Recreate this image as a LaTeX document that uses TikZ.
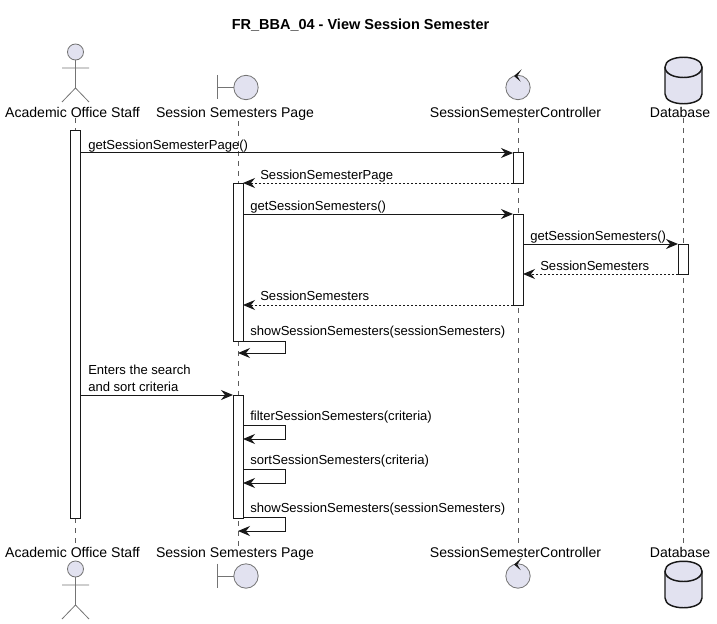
\documentclass[tikz,border=0pt]{standalone}
\usepackage{fontspec}
\setmainfont{Liberation Sans}
\usetikzlibrary{arrows.meta}
\definecolor{partfill}{HTML}{E2E2F0}
\definecolor{partline}{HTML}{181818}

\begin{document}
\begin{tikzpicture}[
x=0.75pt, y=-0.75pt,
>={Stealth[length=9pt,width=7.5pt,inset=3pt]},
title/.style={font=\fontsize{10.87}{12}\selectfont\bfseries, inner sep=0pt},
partname/.style={font=\fontsize{10.55}{12}\selectfont, inner sep=0pt, anchor=base},
msg/.style={font=\fontsize{9.8}{11}\selectfont, inner sep=0pt, anchor=base west},
activebar/.style={draw=partline, fill=white, line width=0.75pt, minimum width=7.5pt, inner sep=0pt, outer sep=0pt, anchor=north, minimum height=#1*0.75pt},
lifeline/.style={draw=partline!70, line width=0.4pt, dash pattern=on 3.75pt off 3.75pt},
call/.style={->, draw=partline, line width=0.75pt},
reply/.style={->, draw=partline, line width=0.75pt, dash pattern=on 1.5pt off 1.5pt},
figline/.style={draw=partline!60, line width=0.6pt},
figfill/.style={draw=partline!60, fill=partfill, line width=0.6pt}
]
    \useasboundingbox (0,0) rectangle (717,624);

    \node[title] (tt) at (360.5,25){FR\_BBA\_04 - View Session Semester};

    % names on top and bottom
    \node[partname] (a0) at (72.5,118){Academic Office Staff};
    \node[partname] (b0) at (235,118){Session Semesters Page};
    \node[partname] (c0) at (515.5,118){SessionSemesterController};
    \node[partname] (d0) at (680,118){Database};
    \node[partname] (a9) at (72.5,557){Academic Office Staff};
    \node[partname] (b9) at (235,557){Session Semesters Page};
    \node[partname] (c9) at (515.5,557){SessionSemesterController};
    \node[partname] (d9) at (680,557){Database};

    % figures
    \foreach \dy in {0,517}{
        \draw[figfill] (75.5,52+\dy) circle (8);
        \draw[figline] (75.5,60+\dy) -- (75.5,88+\dy) (62,68+\dy) -- (89,68+\dy)
            (62,102+\dy) -- (75.5,88+\dy) -- (89,102+\dy);
    }
    \foreach \dy in {0,488.5}{
        \draw[figfill] (246,87.5+\dy) circle (12.2);
        \draw[figline] (217.5,75+\dy) -- (217.5,99.5+\dy) (217.5,87.5+\dy) -- (234,87.5+\dy);
        \draw[figfill] (518,87.5+\dy) circle (12.2);
        \fill[partline] (521.7,69.3+\dy) -- (514,76+\dy) -- (520.7,81.7+\dy) -- (517.3,76+\dy) -- cycle;
    }
    \foreach \dy in {0,504}{
        \draw[draw=partline, fill=partfill, line width=1.1pt] (665,67+\dy)
            .. controls (665,54+\dy) and (702,54+\dy) .. (702,67+\dy) -- (702,94+\dy)
            .. controls (702,107+\dy) and (665,107+\dy) .. (665,94+\dy) -- cycle;
        \draw[draw=partline, line width=1.1pt] (665,67+\dy)
            .. controls (665,81+\dy) and (702,81+\dy) .. (702,67+\dy);
    }

    % lifelines
    \coordinate (ax) at (75,0);
    \coordinate (bx) at (238,0);
    \coordinate (cx) at (518,0);
    \coordinate (dx) at (683,0);
    \draw[lifeline] (ax |- a0.south) -- (ax |- a9.north);
    \draw[lifeline] (bx |- b0.south) -- (bx |- b9.north);
    \draw[lifeline] (cx |- c0.south) -- (cx |- c9.north);
    \draw[lifeline] (dx |- d0.south) -- (dx |- d9.north);

    % activations
    \node[activebar=387] (a1) at (75,131){};
    \node[activebar=158] (b1) at (238,183){};
    \node[activebar=123] (b2) at (238,395){};
    \node[activebar=30] (c1) at (518,153){};
    \node[activebar=91] (c2) at (518,214){};
    \node[activebar=30] (d1) at (683,244){};

    % messages
    \node[msg] (m1) at (88,150){getSessionSemesterPage()};
    \node[msg] (m2) at (260,180){SessionSemesterPage};
    \node[msg] (m3) at (250,210){getSessionSemesters()};
    \node[msg] (m4) at (530,240){getSessionSemesters()};
    \node[msg] (m5) at (540,270){SessionSemesters};
    \node[msg] (m6) at (260,300){SessionSemesters};
    \node[msg] (m7) at (250,335){showSessionSemesters(sessionSemesters)};
    \node[msg] (m8) at (88,374){Enters the search};
    \node[msg] (m9) at (88,391){and sort criteria};
    \node[msg] (m10) at (250,420){filterSessionSemesters(criteria)};
    \node[msg] (m11) at (250,464){sortSessionSemesters(criteria)};
    \node[msg] (m12) at (250,512){showSessionSemesters(sessionSemesters)};

    \draw[call] (a1.east |- c1.north) -- (c1.north west);
    \draw[reply] (c1.south west) -- (b1.east |- c1.south);
    \draw[call] (b1.east |- c2.north) -- (c2.north west);
    \draw[call] (c2.east |- d1.north) -- (d1.north west);
    \draw[reply] (d1.south west) -- (c2.east |- d1.south);
    \draw[reply] (c2.south west) -- (b1.east |- c2.south);
    \draw[call] (a1.east |- b2.north) -- (b2.north west);

    % self calls
    \coordinate (s1) at (285,341);
    \coordinate (s2) at (285,353);
    \coordinate (s3) at (285,425);
    \coordinate (s4) at (285,439);
    \coordinate (s5) at (285,469);
    \coordinate (s6) at (285,483);
    \coordinate (s7) at (285,517);
    \coordinate (s8) at (285,531);
    \draw[call] (b1.south east) -- (s1) -- (s2) -- (bx |- s2);
    \draw[call] (b2.east |- s3) -- (s3) -- (s4) -- (b2.east |- s4);
    \draw[call] (b2.east |- s5) -- (s5) -- (s6) -- (b2.east |- s6);
    \draw[call] (b2.east |- s7) -- (s7) -- (s8) -- (bx |- s8);
\end{tikzpicture}
\end{document}
